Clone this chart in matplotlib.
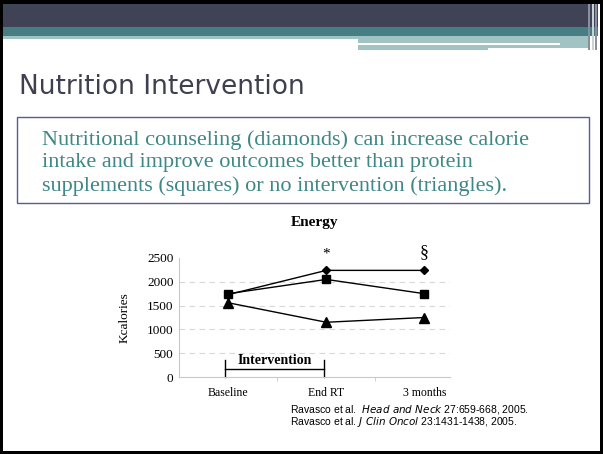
import numpy as np
import matplotlib
matplotlib.use("Agg")
from matplotlib import pyplot as plt
from matplotlib.patches import Rectangle

# data
stages = ['Baseline', 'End RT', '3 months']
counseling = [1730, 2240, 2240]   # diamonds
supplements = [1750, 2050, 1750]  # squares
no_interv = [1560, 1150, 1250]    # triangles
yticks = [0, 500, 1000, 1500, 2000, 2500]
signif = ['', '*', '\u00a7']

W, H = 603, 454
fig = plt.figure(figsize=(W / 100, H / 100), dpi=100)

# slide background, pixel coords
bg = fig.add_axes([0, 0, 1, 1])
bg.set_xlim(0, W)
bg.set_ylim(H, 0)
bg.axis('off')

def box(x0, y0, x1, y1, c, **kw):
    bg.add_patch(Rectangle((x0, y0), x1 - x0, y1 - y0, facecolor=c, edgecolor='none', **kw))

box(0, 0, W, 4, 'black')
box(3, 4, 598, 27, '#404255')
box(3, 27, 598, 36, '#467f83')
box(3, 36, 358, 39, '#a2c3c4')
box(358, 36, 590, 50, '#a2c3c4')
box(358, 43, 560, 45, 'white')
box(488, 48, 590, 50, 'white')
for xs, c in [(588, '#8a8fa0'), (592, '#c9d3d6'), (595, '#8a8fa0')]:
    box(xs, 4, xs + 2, 50, c)
box(0, 0, 3, H, 'black')
box(W - 3, 0, W, H, 'black')
box(0, H - 3, W, H, 'black')

bg.text(19, 87, 'Nutrition Intervention', fontsize=19, color='#3f3f50',
        family='DejaVu Sans', va='center', ha='left')

bg.add_patch(Rectangle((17, 117), 572, 86, facecolor='none', edgecolor='#5a5a96', lw=1))
lines = ['Nutritional counseling (diamonds) can increase calorie',
         'intake and improve outcomes better than protein',
         'supplements (squares) or no intervention (triangles).']
for i, s in enumerate(lines):
    bg.text(42, 140 + 23 * i, s, fontsize=16, color='#3f8787',
            family='Liberation Serif', va='center', ha='left')

bg.text(290, 409, 'Ravasco et al.  $\\it{Head\\ and\\ Neck}$ 27:659-668, 2005.',
        fontsize=7.5, family='Liberation Sans', va='center')
bg.text(290, 422, 'Ravasco et al. $\\it{J\\ Clin\\ Oncol}$ 23:1431-1438, 2005.',
        fontsize=7.5, family='Liberation Sans', va='center')

# chart
ax = fig.add_axes([179 / W, 77 / H, (450 - 179) / W, (377 - 258) / H])
x = np.arange(len(stages))
ax.plot(x, counseling, color='black', lw=1, marker='D', ms=4.5)
ax.plot(x, supplements, color='black', lw=1, marker='s', ms=5.5)
ax.plot(x, no_interv, color='black', lw=1, marker='^', ms=6.5)

ax.set_xlim(-0.5, 2.26)
ax.set_ylim(0, 2500)
ax.set_xticks(x)
ax.set_xticklabels(stages, family='Liberation Serif', fontsize=8.5)
ax.set_yticks(yticks)
ax.set_yticklabels([str(v) for v in yticks], family='Liberation Serif', fontsize=9.5)
ax.set_xticks([0.5, 1.5], minor=True)
ax.tick_params(axis='x', which='major', length=0, pad=7)
ax.tick_params(axis='x', which='minor', length=3, color='#c8c8c8')
ax.tick_params(axis='y', length=0, pad=4)
for v in yticks[1:-1]:
    ax.axhline(v, color='#d8d8d8', lw=0.8, ls=(0, (5, 4)), zorder=0)
for sp in ['top', 'right']:
    ax.spines[sp].set_visible(False)
ax.spines['left'].set_color('#c8c8c8')
ax.spines['bottom'].set_color('#c8c8c8')
ax.patch.set_alpha(0)

ax.set_ylabel('Kcalories', family='Liberation Serif', fontsize=9.5, labelpad=12)
ax.set_title('Energy', family='Liberation Serif', fontweight='bold', fontsize=11, pad=23)

for xi, s, v in zip(x, signif, counseling):
    if s:
        ax.text(xi, v + 200, s, ha='center', va='bottom', family='Liberation Serif',
                fontsize=11 if s == '*' else 13)

# intervention bracket
ax.plot([-0.03, 0.98], [160, 160], color='black', lw=1, clip_on=False)
ax.plot([-0.03, -0.03], [0, 360], color='black', lw=1, clip_on=False)
ax.plot([0.98, 0.98], [0, 360], color='black', lw=1, clip_on=False)
ax.text(0.475, 200, 'Intervention', ha='center', va='bottom', family='Liberation Serif',
        fontweight='bold', fontsize=10)

fig.savefig('out.png', dpi=100)
